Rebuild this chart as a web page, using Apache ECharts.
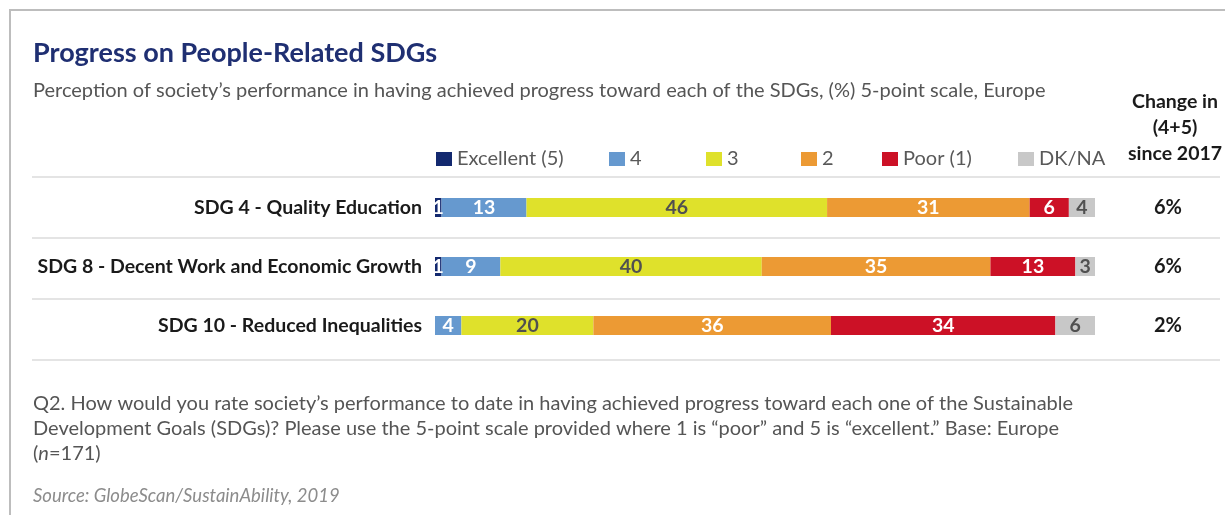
<!DOCTYPE html>
<html style="height: 100%">
<head>
<meta charset="utf-8">
<title>Progress on People-Related SDGs</title>
<script src="https://cdn.jsdelivr.net/npm/echarts@6/dist/echarts.min.js"></script>
</head>
<body style="height: 100%; margin: 0; background: #fff">
<div id="container" style="width: 1225px; height: 515px"></div>
<script type="text/javascript">
// data
var goals = ['SDG 4 - Quality Education', 'SDG 8 - Decent Work and Economic Growth', 'SDG 10 - Reduced Inequalities'];
var ratings = ['Excellent (5)', '4', '3', '2', 'Poor (1)', 'DK/NA'];
var excellent = [1, 1, 0];
var four = [13, 9, 4];
var three = [46, 40, 20];
var two = [31, 35, 36];
var poor = [6, 13, 34];
var dkna = [4, 3, 6];
var changes = ['6%', '6%', '2%'];

var values = [excellent, four, three, two, poor, dkna];
var colors = ['#13296f', '#6699cf', '#dfe12b', '#ec9a34', '#cc1126', '#c8c8c8'];
var labelColors = ['#fff', '#fff', '#505050', '#fff', '#fff', '#505050'];
var legendLeft = [431, 604, 701, 796, 877, 1013];
var rowCenter = [207.5, 266.5, 325.5];
var font = 'Lato';

var dom = document.getElementById('container');
var myChart = echarts.init(dom);

var grids = [], xAxes = [], yAxes = [], series = [], legends = [];
for (var r = 0; r < goals.length; r++) {
    var total = 0;
    for (var k = 0; k < values.length; k++) total += values[k][r];
    grids.push({left: 435, right: 130, top: rowCenter[r] - 20, height: 40});
    xAxes.push({type: 'value', gridIndex: r, min: 0, max: total, show: false});
    yAxes.push({
        type: 'category', gridIndex: r, data: [goals[r]],
        axisLine: {show: false}, axisTick: {show: false},
        axisLabel: {margin: 13, color: '#1a1a1a', fontSize: 19.5, fontWeight: 'bold', fontFamily: font}
    });
    yAxes.push({
        type: 'category', gridIndex: r, position: 'right', data: [changes[r]],
        axisLine: {show: false}, axisTick: {show: false},
        axisLabel: {margin: 73, align: 'center', color: '#1a1a1a', fontSize: 20, fontWeight: 'bold', fontFamily: font}
    });
    for (var s = 0; s < ratings.length; s++) {
        series.push({
            name: ratings[s],
            type: 'bar',
            stack: 'row' + r,
            xAxisIndex: r,
            yAxisIndex: r * 2,
            barWidth: 19,
            itemStyle: {color: colors[s]},
            label: {
                show: true,
                position: 'inside',
                color: labelColors[s],
                fontSize: 19.5,
                fontWeight: 'bold',
                fontFamily: font,
                formatter: function (p) { return p.value ? String(p.value) : ''; }
            },
            data: [values[s][r]]
        });
    }
}
for (var i = 0; i < ratings.length; i++) {
    legends.push({
        data: [ratings[i]],
        left: legendLeft[i],
        top: 144,
        itemWidth: 16,
        itemHeight: 14,
        itemGap: 0,
        icon: 'rect',
        selectedMode: false,
        textStyle: {color: '#595959', fontSize: 20, fontFamily: font}
    });
}

var sepLines = [177, 238, 299, 360].map(function (y) {
    return {type: 'line', shape: {x1: 32, y1: y, x2: 1220, y2: y}, style: {stroke: '#e4e4e4', lineWidth: 2}};
});

var option = {
    animation: false,
    textStyle: {fontFamily: font},
    title: [{
        text: 'Progress on People-Related SDGs',
        left: 28, top: 35,
        textStyle: {color: '#1f2f72', fontSize: 27, fontWeight: 'bold', fontFamily: font}
    }, {
        text: 'Perception of society\u2019s performance in having achieved progress toward each of the SDGs, (%) 5-point scale, Europe',
        left: 28, top: 76,
        textStyle: {color: '#555', fontSize: 20, fontWeight: 'normal', fontFamily: font}
    }, {
        text: 'Change in\n(4+5)\nsince 2017',
        left: 1170, top: 84, textAlign: 'center',
        textStyle: {color: '#1a1a1a', fontSize: 19.5, fontWeight: 'bold', lineHeight: 26, fontFamily: font}
    }, {
        text: 'Q2. How would you rate society\u2019s performance to date in having achieved progress toward each one of the Sustainable\nDevelopment Goals (SDGs)? Please use the 5-point scale provided where 1 is \u201cpoor\u201d and 5 is \u201cexcellent.\u201d Base: Europe\n({n|n}=171)',
        left: 28, top: 386,
        textStyle: {
            color: '#555', fontSize: 20, fontWeight: 'normal', lineHeight: 25, fontFamily: font,
            rich: {n: {fontStyle: 'italic', color: '#555', fontSize: 20, fontFamily: font}}
        }
    }, {
        text: 'Source: GlobeScan/SustainAbility, 2019',
        left: 28, top: 482,
        textStyle: {color: '#8c8c8c', fontSize: 18.5, fontStyle: 'italic', fontWeight: 'normal', fontFamily: font}
    }],
    legend: legends,
    grid: grids,
    xAxis: xAxes,
    yAxis: yAxes,
    series: series,
    graphic: [{
        type: 'polyline',
        shape: {points: [[10, 515], [10, 10], [1225, 10]]},
        style: {stroke: '#bdbdbd', lineWidth: 2, fill: null}
    }].concat(sepLines)
};

myChart.setOption(option);
</script>
</body>
</html>
